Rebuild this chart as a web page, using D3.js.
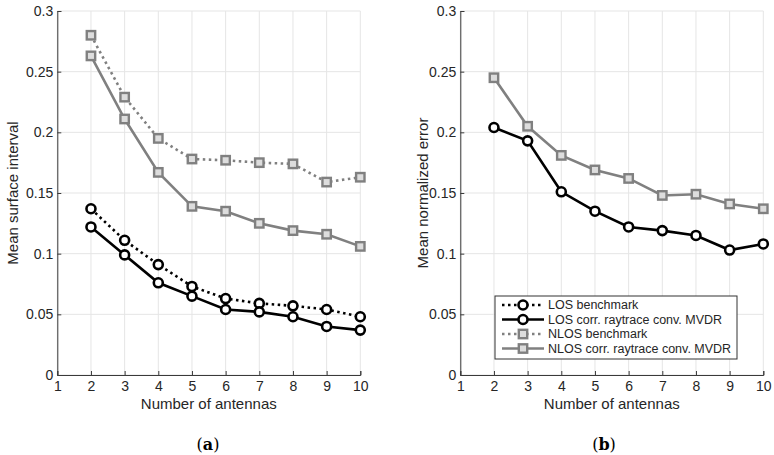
<!DOCTYPE html>
<html>
<head>
<meta charset="utf-8">
<script src="https://cdn.jsdelivr.net/npm/d3@7"></script>
<style>
  body { margin: 0; background: #fff; }
  text { font-family: "Liberation Sans", Arial, sans-serif; fill: #262626; }
  .caption { font-family: "DejaVu Serif", serif; fill: #000; }
</style>
</head>
<body>
<div id="chart"></div>
<script>
// antennas on the x axis
var antennas = [2, 3, 4, 5, 6, 7, 8, 9, 10];
var xTicks = [1, 2, 3, 4, 5, 6, 7, 8, 9, 10];
var yTicks = [0, 0.05, 0.1, 0.15, 0.2, 0.25, 0.3];

// (a) mean surface interval
var losBenchA  = [0.137, 0.111, 0.091, 0.073, 0.063, 0.059, 0.057, 0.054, 0.048];
var losCorrA   = [0.122, 0.099, 0.076, 0.065, 0.054, 0.052, 0.048, 0.040, 0.037];
var nlosBenchA = [0.280, 0.229, 0.195, 0.178, 0.177, 0.175, 0.174, 0.159, 0.163];
var nlosCorrA  = [0.263, 0.211, 0.167, 0.139, 0.135, 0.125, 0.119, 0.116, 0.106];

// (b) mean normalized error
var losCorrB   = [0.204, 0.193, 0.151, 0.135, 0.122, 0.119, 0.115, 0.103, 0.108];
var nlosCorrB  = [0.245, 0.205, 0.181, 0.169, 0.162, 0.148, 0.149, 0.141, 0.137];

var legendLabels = ["LOS benchmark", "LOS corr. raytrace conv. MVDR",
                    "NLOS benchmark", "NLOS corr. raytrace conv. MVDR"];

var W = 774, H = 455;
var svg = d3.select("#chart").append("svg").attr("width", W).attr("height", H);

var styles = {
  losBench:  {color: "#000", dash: "2.5,3.5", marker: "circle"},
  losCorr:   {color: "#000", dash: null,      marker: "circle"},
  nlosBench: {color: "#808080", dash: "2.5,3.5", marker: "square"},
  nlosCorr:  {color: "#808080", dash: null,      marker: "square"}
};

function drawMarker(g, type, color, cx, cy) {
  if (type == "circle") {
    g.append("circle").attr("cx", cx).attr("cy", cy).attr("r", 4.5)
      .attr("fill", "#fff").attr("stroke", color).attr("stroke-width", 2.6);
  } else {
    g.append("rect").attr("x", cx - 4.2).attr("y", cy - 4.2)
      .attr("width", 8.4).attr("height", 8.4)
      .attr("fill", "#ddd").attr("stroke", color).attr("stroke-width", 2.4);
  }
}

function panel(left, right, yTitle, titleOff, series, caption, capX) {
  var top = 11, bottom = 375;
  var x = d3.scaleLinear().domain([1, 10]).range([left, right]);
  var y = d3.scaleLinear().domain([0, 0.3]).range([bottom, top]);
  var g = svg.append("g");

  // grid
  g.selectAll(".vg").data(xTicks).enter().append("line")
    .attr("x1", d => x(d)).attr("x2", d => x(d)).attr("y1", top).attr("y2", bottom)
    .attr("stroke", "#e5e5e5").attr("stroke-width", 1);
  g.selectAll(".hg").data(yTicks).enter().append("line")
    .attr("x1", left).attr("x2", right).attr("y1", d => y(d)).attr("y2", d => y(d))
    .attr("stroke", "#e5e5e5").attr("stroke-width", 1);

  // axes, ticks inward
  var xa = g.append("g").attr("transform", "translate(0," + bottom + ")")
    .call(d3.axisBottom(x).tickValues(xTicks).tickSize(-4).tickPadding(6).tickFormat(d3.format("d")));
  var ya = g.append("g").attr("transform", "translate(" + left + ",0)")
    .call(d3.axisLeft(y).tickValues(yTicks).tickSize(-4).tickPadding(4).tickFormat(d => d === 0 ? "0" : String(+d.toFixed(2))));
  [xa, ya].forEach(function(a) {
    a.select(".domain").attr("stroke", "#3a3a3a").attr("stroke-width", 1);
    a.selectAll(".tick line").attr("stroke", "#3a3a3a");
    a.selectAll(".tick text").attr("font-size", 14).attr("fill", "#262626")
      .attr("font-family", "Liberation Sans, Arial, sans-serif");
  });

  g.append("text").attr("x", (left + right) / 2).attr("y", 409)
    .attr("text-anchor", "middle").attr("font-size", 15).text("Number of antennas");
  g.append("text")
    .attr("transform", "translate(" + (left - titleOff) + "," + ((top + bottom) / 2) + ") rotate(-90)")
    .attr("text-anchor", "middle").attr("font-size", 15).text(yTitle);

  // series
  var line = d3.line().x((d, i) => x(antennas[i])).y(d => y(d));
  series.forEach(function(s) {
    var st = styles[s.key];
    g.append("path").attr("d", line(s.values)).attr("fill", "none")
      .attr("stroke", st.color).attr("stroke-width", 2.6)
      .attr("stroke-dasharray", st.dash);
    s.values.forEach(function(v, i) {
      drawMarker(g, st.marker, st.color, x(antennas[i]), y(v));
    });
  });

  var cap = svg.append("text").attr("class", "caption").attr("x", capX).attr("y", 450)
    .attr("text-anchor", "middle").attr("font-size", 16);
  cap.append("tspan").text("(");
  cap.append("tspan").attr("font-weight", "bold").text(caption);
  cap.append("tspan").text(")");
}

panel(57.3, 360.3, "Mean surface interval", 39, [
  {key: "nlosBench", values: nlosBenchA},
  {key: "nlosCorr",  values: nlosCorrA},
  {key: "losBench",  values: losBenchA},
  {key: "losCorr",   values: losCorrA}
], "a", 208);

panel(460.3, 763.3, "Mean normalized error", 32, [
  {key: "nlosCorr", values: nlosCorrB},
  {key: "losCorr",  values: losCorrB}
], "b", 604);

// legend
var lg = svg.append("g");
lg.append("rect").attr("x", 495).attr("y", 296).attr("width", 242).attr("height", 63)
  .attr("fill", "#fff").attr("stroke", "#333").attr("stroke-width", 1);
var keys = ["losBench", "losCorr", "nlosBench", "nlosCorr"];
keys.forEach(function(k, i) {
  var st = styles[k];
  var cy = 305 + i * 14.5;
  lg.append("line").attr("x1", 502).attr("x2", 544).attr("y1", cy).attr("y2", cy)
    .attr("stroke", st.color).attr("stroke-width", 2.6).attr("stroke-dasharray", st.dash);
  drawMarker(lg, st.marker, st.color, 523, cy);
  lg.append("text").attr("x", 548).attr("y", cy + 4.3).attr("font-size", 12.5).text(legendLabels[i]);
});
</script>
</body>
</html>
